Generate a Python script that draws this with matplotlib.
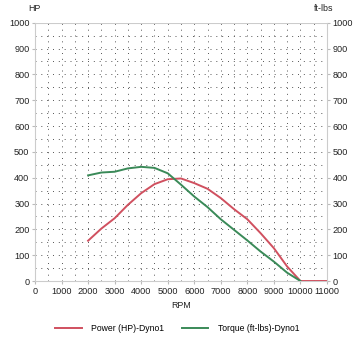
import matplotlib
matplotlib.use("Agg")
import matplotlib.pyplot as plt
import numpy as np

plt.rcParams['font.family'] = ['Liberation Sans', 'DejaVu Sans']

rpm = [2000, 2500, 3000, 3500, 4000, 4500, 5000, 5500, 6000, 6500, 7000,
       7500, 8000, 8500, 9000, 9500, 10000, 10500, 11000]
power_hp = [156, 203, 243, 295, 340, 375, 394, 397, 379, 357, 321,
            278, 239, 185, 127, 56, 0, 0, 0]
torque_ftlbs = [409, 420, 423, 436, 442, 438, 417, 373, 327, 286, 239,
                198, 157, 114, 75, 32, 0, None, None]

x_ticks = list(range(0, 11001, 1000))
y_ticks = list(range(0, 1001, 100))

fig = plt.figure(figsize=(3.54, 3.44), dpi=100)
ax = fig.add_axes([0.0989, 0.1831, 0.8248, 0.7509])

grid_kw = dict(color='#555555', lw=0.7, linestyle=(0, (1, 5)), zorder=1)
for gx in range(500, 11000, 500):
    ax.axvline(gx, **grid_kw)
for gy in range(50, 1000, 50):
    ax.axhline(gy, **grid_kw)
ax.axhline(1000, color='#cccccc', lw=0.8, zorder=1)

t_rpm = [r for r, t in zip(rpm, torque_ftlbs) if t is not None]
t_val = [t for t in torque_ftlbs if t is not None]

ax.plot(rpm, power_hp, color='#d0505f', lw=1.4, zorder=3,
        label='Power (HP)-Dyno1')
ax.plot(t_rpm, t_val, color='#3a8a58', lw=1.4, zorder=3,
        label='Torque (ft-lbs)-Dyno1')

ax.set_xlim(0, 11000)
ax.set_ylim(0, 1000)
ax.set_xticks(x_ticks)
ax.set_yticks(y_ticks)
ax.tick_params(labelsize=6.6, length=2, color='#bbbbbb', pad=2, labelcolor='#222222')
for side in ['left', 'bottom']:
    ax.spines[side].set_color('#cccccc')
ax.spines['top'].set_visible(False)
ax.spines['right'].set_visible(False)

ax2 = ax.twinx()
ax2.set_ylim(0, 1000)
ax2.set_yticks(y_ticks)
ax2.tick_params(labelsize=6.6, length=2, color='#bbbbbb', pad=2, labelcolor='#222222')
for s in ax2.spines.values():
    s.set_visible(False)
ax2.spines['right'].set_visible(True)
ax2.spines['right'].set_color('#cccccc')

ax.set_xlabel('RPM', fontsize=6.4, color='#222222', labelpad=4)
fig.text(0.097, 0.974, 'HP', fontsize=6.4, color='#222222', va='center', ha='center')
fig.text(0.915, 0.974, 'ft-lbs', fontsize=6.4, color='#222222', va='center', ha='center')

fig.legend(loc='center', bbox_to_anchor=(0.5, 0.044), ncol=2, frameon=False,
           fontsize=6.2, handlelength=3.1, columnspacing=2.1, handletextpad=1.05)

fig.savefig('out.png', dpi=100)
